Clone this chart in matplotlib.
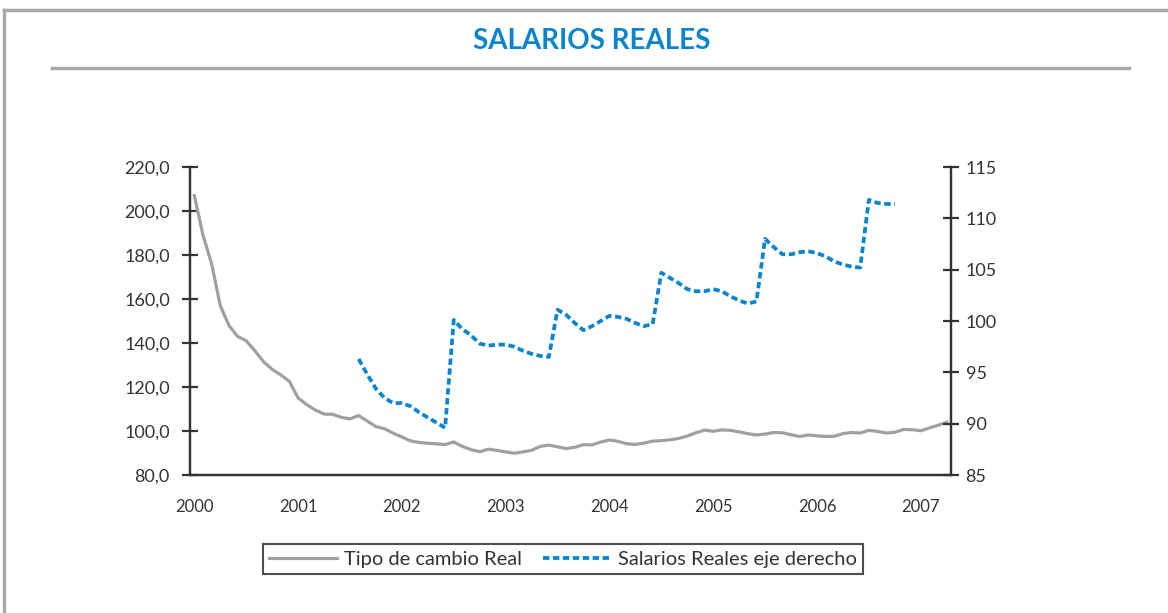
import matplotlib
matplotlib.use('Agg')
import matplotlib.pyplot as plt
import numpy as np
from matplotlib.lines import Line2D
from matplotlib.ticker import FuncFormatter

# Monthly series, Jan 2000 - Apr 2007 (category axis)
tipo_cambio_real = [
    207.0, 189.0, 176.0, 157.0, 148.0, 143.0, 141.0, 136.5, 131.5, 128.0, 125.5, 122.5,
    115.0, 112.0, 109.5, 107.7, 107.6, 106.2, 105.5, 107.0, 104.5, 102.0, 101.0, 99.0,
    97.3, 95.5, 94.8, 94.4, 94.2, 93.8, 95.0, 93.0, 91.5, 90.6, 91.7, 91.2,
    90.5, 89.9, 90.5, 91.2, 93.0, 93.6, 92.8, 92.0, 92.6, 93.8, 93.7, 95.0,
    95.9, 95.3, 94.2, 93.9, 94.5, 95.4, 95.6, 96.0, 96.6, 97.7, 99.2, 100.4,
    99.9, 100.5, 100.3, 99.6, 98.8, 98.2, 98.6, 99.3, 99.2, 98.3, 97.5, 98.2,
    97.8, 97.5, 97.6, 98.8, 99.3, 99.1, 100.3, 99.8, 99.1, 99.4, 100.7, 100.6,
    100.1, 101.4, 102.6, 104.0,
]

# Salarios reales, Aug 2001 - Oct 2006 (right axis)
salarios_first_month = 19
salarios_reales = [
    96.3, 94.8, 93.4, 92.5, 92.0,
    92.0, 91.7, 91.1, 90.6, 90.1, 89.6, 100.1, 99.2, 98.6, 97.8, 97.6, 97.7,
    97.7, 97.5, 97.1, 96.8, 96.6, 96.5, 101.1, 100.6, 99.8, 99.1, 99.5, 100.0,
    100.5, 100.4, 100.2, 99.8, 99.5, 99.7, 104.7, 104.2, 103.7, 103.1, 102.9, 102.9,
    103.1, 102.9, 102.4, 102.0, 101.7, 101.9, 108.0, 107.2, 106.5, 106.5, 106.7, 106.8,
    106.6, 106.3, 105.8, 105.5, 105.3, 105.2, 111.8, 111.5, 111.4, 111.4,
]

year_labels = ['2000', '2001', '2002', '2003', '2004', '2005', '2006', '2007']

GRAY = '#a0a0a0'
BLUE = '#0a84cc'
DARK = '#333333'
FONT = ['Lato', 'DejaVu Sans']

plt.rcParams['font.family'] = FONT

fig = plt.figure(figsize=(11.68, 6.13), dpi=100)
W, H = 1168.0, 613.0

# outer frame (left and top edges) and title rule
fig.add_artist(Line2D([4 / W, 4 / W], [0, 1 - 10 / H], color='#a8a8a8', lw=2.5,
                      transform=fig.transFigure))
fig.add_artist(Line2D([4 / W, 1], [1 - 10 / H, 1 - 10 / H], color='#a8a8a8', lw=2.5,
                      transform=fig.transFigure))
fig.add_artist(Line2D([52 / W, 1129 / W], [1 - 68 / H, 1 - 68 / H], color='#a8a8a8', lw=2.5,
                      transform=fig.transFigure))
fig.text(592 / W, 1 - 41 / H, 'SALARIOS REALES', ha='center', va='center',
         color=BLUE, fontsize=20, fontweight='bold')

ax = fig.add_axes([190 / W, 1 - 475 / H, (951 - 190) / W, (475 - 167) / H])
ax2 = ax.twinx()

x_all = np.arange(len(tipo_cambio_real))
x_sal = np.arange(salarios_first_month, salarios_first_month + len(salarios_reales))

l1, = ax.plot(x_all, tipo_cambio_real, color=GRAY, lw=2.3, solid_joinstyle='round',
              label='Tipo de cambio Real')
l2, = ax2.plot(x_sal, salarios_reales, color=BLUE, lw=2.7, dash_capstyle='butt',
               linestyle=(0, (1.7, 0.95)), label='Salarios Reales eje derecho')

ax.set_xlim(-0.5, len(tipo_cambio_real) - 0.5)
ax.set_ylim(80, 220)
ax.set_yticks(np.arange(80, 221, 20))
ax.yaxis.set_major_formatter(FuncFormatter(lambda v, p: f'{v:.1f}'.replace('.', ',')))
ax2.set_ylim(85, 115)
ax2.set_yticks(np.arange(85, 116, 5))

ax.set_xticks(np.arange(0, len(tipo_cambio_real), 12))
ax.set_xticklabels(year_labels)

for a in (ax, ax2):
    a.spines['top'].set_visible(False)
    for s in ('left', 'right', 'bottom'):
        a.spines[s].set_color(DARK)
        a.spines[s].set_linewidth(1.6)
    a.set_facecolor('none')

ax.tick_params(axis='x', length=0, pad=17, labelsize=12, labelcolor=DARK)
ax.tick_params(axis='y', direction='inout', length=11, width=1.6, color=DARK,
               pad=9, labelsize=13, labelcolor=DARK)
ax2.tick_params(axis='y', direction='inout', length=11, width=1.6, color=DARK,
                pad=5, labelsize=13, labelcolor=DARK)

leg = fig.legend([l1, l2], ['Tipo de cambio Real', 'Salarios Reales eje derecho'],
                 loc='center', bbox_to_anchor=(563 / W, 1 - 559 / H), ncol=2,
                 frameon=True, fancybox=False, handlelength=3.4,
                 prop={'size': 14.5},
                 handletextpad=0.35, columnspacing=1.0, borderpad=0.3)
leg.get_frame().set_edgecolor('#222222')
leg.get_frame().set_linewidth(1.5)
for t in leg.get_texts():
    t.set_color(DARK)

fig.savefig('out.png', dpi=100)
